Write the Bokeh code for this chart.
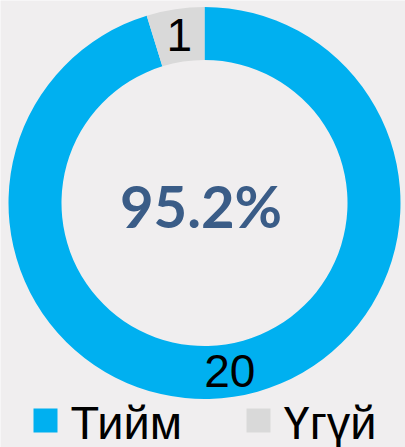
import math
from bokeh.plotting import figure
from bokeh.models import Range1d, ColumnDataSource
from bokeh.core.properties import value
from bokeh.embed import file_html
from bokeh.resources import INLINE

# ---- data ----
categories = ["Тийм", "Үгүй"]
counts = [20, 1]
colors = ["#00B0F0", "#D9D9D9"]
center_label = "95.2%"

BG = "#F0EEEF"
W, H = 405, 447
cx, cy = 204, H - 202.5
r_out, r_in = 196, 143

p = figure(width=W, height=H, output_backend="svg", toolbar_location=None,
           x_range=Range1d(0, W), y_range=Range1d(0, H),
           background_fill_color=BG, border_fill_color=BG, min_border=0)
p.axis.visible = False
p.grid.visible = False
p.outline_line_color = None

total = sum(counts)
starts, ends, mids = [], [], []
acc = 0
for c in counts:
    a0 = math.pi / 2 - 2 * math.pi * acc / total
    a1 = math.pi / 2 - 2 * math.pi * (acc + c) / total
    starts.append(a0)
    ends.append(a1)
    mids.append((a0 + a1) / 2)
    acc += c

src = ColumnDataSource(dict(start=starts, end=ends, color=colors,
                            x=[cx] * len(counts), y=[cy] * len(counts)))
p.annular_wedge(x="x", y="y", inner_radius=r_in, outer_radius=r_out,
                start_angle="start", end_angle="end", direction="clock",
                fill_color="color", line_color=None, source=src)

r_mid = (r_in + r_out) / 2
lx = [cx + r_mid * math.cos(m) for m in mids]
ly = [cy + r_mid * math.sin(m) for m in mids]
p.text(x=lx, y=ly, text=[str(c) for c in counts], text_align="center",
       text_baseline="middle", text_font=value("Liberation Sans"),
       text_font_size="46px", text_color="black")

p.text(x=[200.5], y=[H - 205], text=[center_label], text_align="center",
       text_baseline="middle", text_font=value("Lato"), text_font_style="bold",
       text_font_size="58px", text_color="#3A5C87")

# legend
leg_sq_x = [45, 258]
leg_y = H - 420
p.scatter(x=leg_sq_x, y=[leg_y] * 2, marker="square", size=24,
          fill_color=colors, line_color=None)
p.text(x=[x + 25 for x in leg_sq_x], y=[H - 421.5] * 2, text=categories,
       text_align="left", text_baseline="middle",
       text_font=value("Liberation Sans"), text_font_size="47px", text_color="black")

html = file_html(p, INLINE)
html = html.replace("<body>", '<body style="background:%s">' % BG, 1)
open("out.html", "w").write(html)
